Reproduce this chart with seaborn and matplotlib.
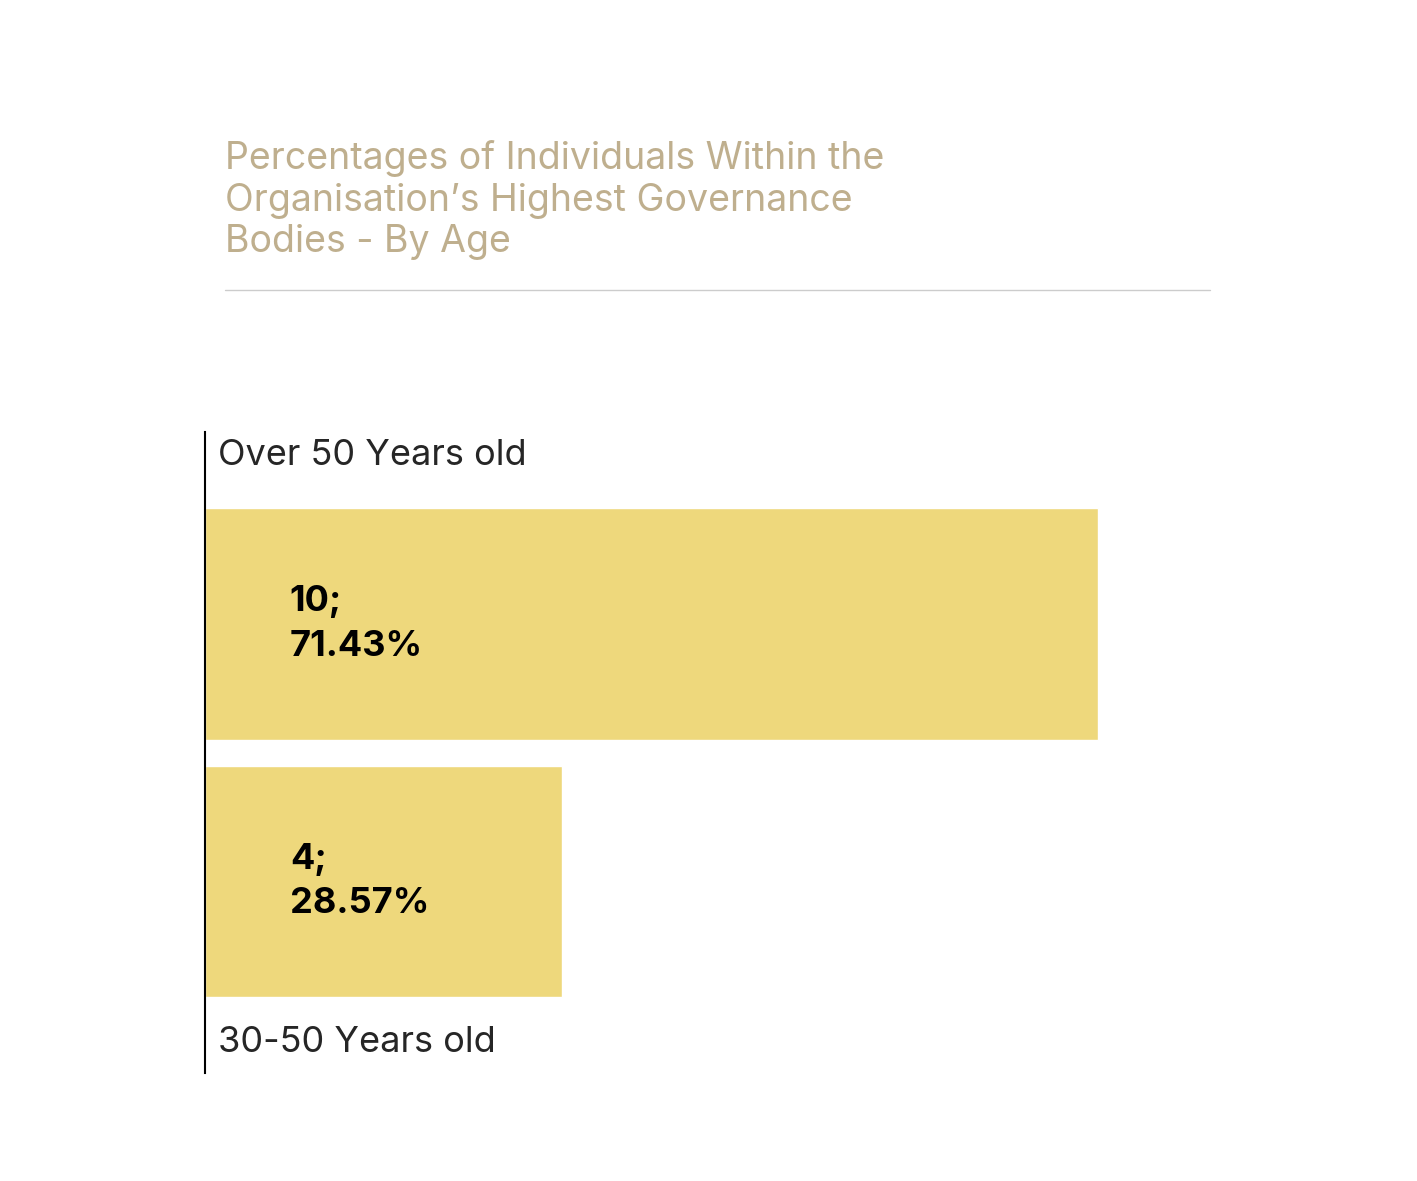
import matplotlib
matplotlib.use("Agg")
import matplotlib.pyplot as plt
import seaborn as sns
import pandas as pd

categories = ["Over 50 Years old", "30-50 Years old"]
counts = [10, 4]
percents = ["71.43%", "28.57%"]

sns.set_style("white")
plt.rcParams['font.family'] = ['Inter', 'DejaVu Sans']

W, H = 1417, 1181
fig = plt.figure(figsize=(W/100, H/100), dpi=100)
ax = fig.add_axes([205/W, 1-1073/H, 1005/W, 641/H])

df = pd.DataFrame({"cat": categories, "n": counts})
sns.barplot(data=df, y="cat", x="n", orient="h", color="#EED87C",
            saturation=1, width=0.9, ax=ax)
ax.set_xlim(0, 1005/89.3)
ax.set_ylim(1 + 191.5/257.5, -192/257.5)
for s in ["top", "right", "bottom"]:
    ax.spines[s].set_visible(False)
ax.spines["left"].set_color("black")
ax.spines["left"].set_linewidth(1.5)
ax.set_xticks([]); ax.set_yticks([])
ax.set_xlabel(""); ax.set_ylabel("")

for i, (c, n, p) in enumerate(zip(categories, counts, percents)):
    ax.text(0.95, i, f"{n};\n{p}", ha="left", va="center", fontsize=26,
            fontweight="bold", linespacing=1.45, color="black")

ax.text(0.15, -0.5 - 0.09, categories[0], ha="left", va="bottom", fontsize=26)
ax.text(1/89.3*13, 1.5 + 0.06, categories[1], ha="left", va="top", fontsize=26)

fig.text(225/W, 1-140/H,
         "Percentages of Individuals Within the\nOrganisation\u2019s Highest Governance\nBodies - By Age",
         ha="left", va="top", fontsize=27, color="#BFAF8E", linespacing=1.2)
fig.add_artist(plt.Line2D([225/W, 1210/W], [1-290/H, 1-290/H], color="#CCCCCC", lw=1))

fig.savefig("out.png", dpi=100)
